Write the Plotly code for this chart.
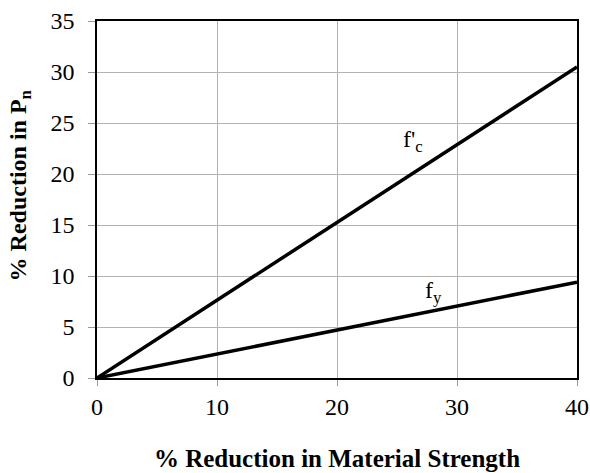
import plotly.graph_objects as go

x_vals = [0, 40]
fc_vals = [0, 30.5]
fy_vals = [0, 9.4]
x_ticks = [0, 10, 20, 30, 40]
y_ticks = [0, 5, 10, 15, 20, 25, 30, 35]

font_family = "Liberation Serif"

fig = go.Figure()
fig.add_trace(go.Scatter(x=x_vals, y=fc_vals, mode="lines",
                         line=dict(color="black", width=3.5), showlegend=False))
fig.add_trace(go.Scatter(x=x_vals, y=fy_vals, mode="lines",
                         line=dict(color="black", width=3.5), showlegend=False))

fig.add_annotation(x=26.3, y=23.2, text="f'<sub>c</sub>", showarrow=False,
                   font=dict(family=font_family, size=24, color="black"))
fig.add_annotation(x=28.0, y=8.4, text="f<sub>y</sub>", showarrow=False,
                   font=dict(family=font_family, size=24, color="black"))

# y-axis title placed as rotated annotation
fig.add_annotation(xref="paper", yref="paper", x=-0.16, y=0.54,
                   text="<b>% Reduction in P<sub>n</sub></b>", textangle=-90,
                   showarrow=False, xanchor="center", yanchor="middle",
                   font=dict(family=font_family, size=24, color="black"))

fig.update_layout(
    width=590, height=473,
    margin=dict(l=97, r=13, t=21, b=95),
    paper_bgcolor="white", plot_bgcolor="white",
    font=dict(family=font_family, size=22, color="black"),
    xaxis=dict(range=[0, 40], tickvals=x_ticks, showgrid=True, gridcolor="#b3b3b3",
               gridwidth=1, showline=True, linecolor="black", linewidth=1.5, mirror=True,
               ticks="outside", ticklen=6, tickcolor="#999999", zeroline=False,
               automargin=False,
               tickfont=dict(family=font_family, size=24, color="black"),
               title=dict(text="<b>% Reduction in Material Strength</b>", standoff=31,
                          font=dict(family=font_family, size=25, color="black"))),
    yaxis=dict(range=[0, 35], tickvals=y_ticks, showgrid=True, gridcolor="#b3b3b3",
               gridwidth=1, showline=True, linecolor="black", linewidth=1.5, mirror=True,
               ticks="outside", ticklen=7, tickcolor="#999999", zeroline=False,
               automargin=False, ticklabelstandoff=9,
               tickfont=dict(family=font_family, size=24, color="black")),
)

fig.write_html("out.html",
               config={"displayModeBar": False},
               post_script="document.body.style.margin='0';document.body.style.overflow='hidden';")
